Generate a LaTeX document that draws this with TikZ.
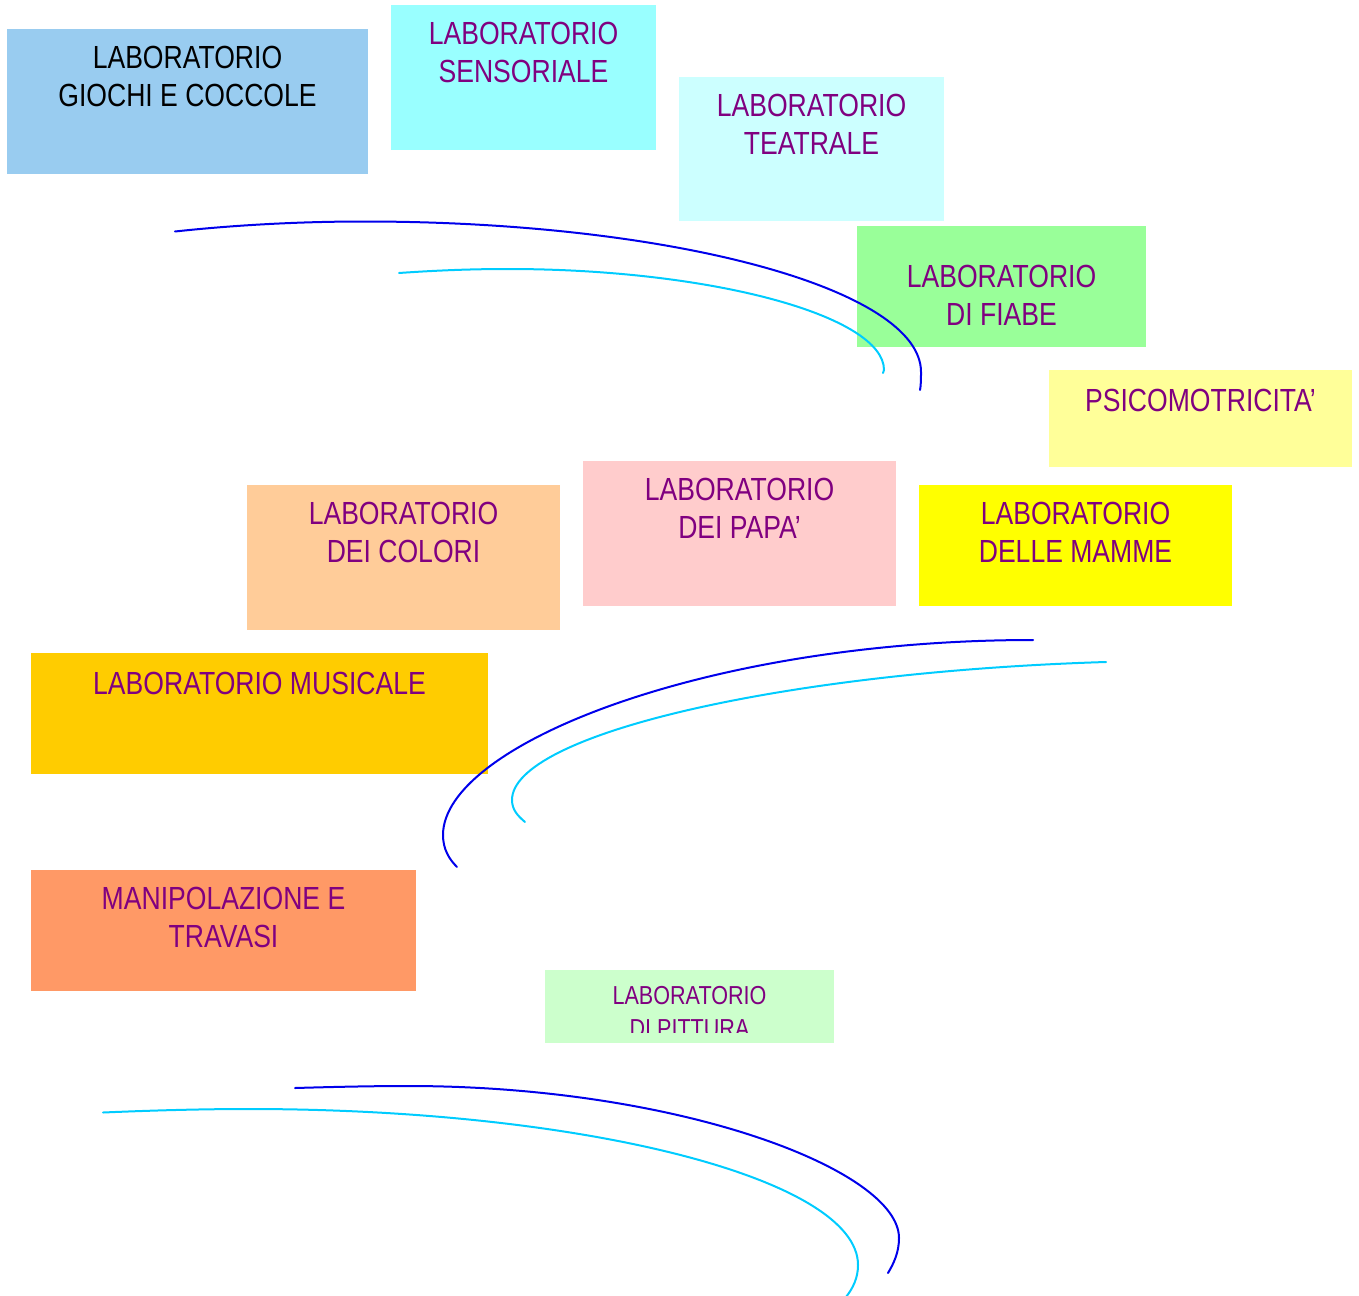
\documentclass[tikz,border=0pt]{standalone}
\usepackage{fontspec}
\setmainfont[FakeStretch=0.83]{Liberation Sans}
\definecolor{cGiochi}{RGB}{153,204,240}
\definecolor{cSens}{RGB}{153,255,255}
\definecolor{cTeatro}{RGB}{204,255,255}
\definecolor{cFiabe}{RGB}{153,255,153}
\definecolor{cPsico}{RGB}{255,255,153}
\definecolor{cColori}{RGB}{255,204,153}
\definecolor{cPapa}{RGB}{255,204,204}
\definecolor{cMamme}{RGB}{255,255,0}
\definecolor{cMusica}{RGB}{255,204,0}
\definecolor{cManip}{RGB}{255,153,102}
\definecolor{cPittura}{RGB}{204,255,204}
\definecolor{cPurple}{RGB}{128,0,128}
\definecolor{cBlue}{RGB}{0,0,235}
\definecolor{cCyan}{RGB}{0,204,255}
\begin{document}
\begin{tikzpicture}[x=1pt,y=-1pt,
  box/.style={rectangle, draw=none, inner sep=0pt, outer sep=0pt, anchor=north west},
  lbl/.style={anchor=north, inner sep=0pt, align=center, text=cPurple,
    font=\fontsize{32}{38}\selectfont, execute at begin node=\rule{0pt}{24pt}},
  small/.style={font=\fontsize{26}{33}\selectfont, execute at begin node=\rule{0pt}{19.5pt}},
  arcdark/.style={draw=cBlue, line width=2pt, line cap=round},
  arclight/.style={draw=cCyan, line width=2pt, line cap=round}]
\useasboundingbox (0,0) rectangle (1359,1295);

% coloured boxes
\node[box, fill=cGiochi, minimum width=361pt, minimum height=145pt] (giochi) at (7,29) {};
\node[box, fill=cSens, minimum width=265pt, minimum height=145pt] (sens) at (391,5) {};
\node[box, fill=cTeatro, minimum width=265pt, minimum height=144pt] (teatro) at (679,77) {};
\node[box, fill=cFiabe, minimum width=289pt, minimum height=121pt] (fiabe) at (857,226) {};
\node[box, fill=cPsico, minimum width=303pt, minimum height=97pt] (psico) at (1049,370) {};
\node[box, fill=cColori, minimum width=313pt, minimum height=145pt] (colori) at (247,485) {};
\node[box, fill=cPapa, minimum width=313pt, minimum height=145pt] (papa) at (583,461) {};
\node[box, fill=cMamme, minimum width=313pt, minimum height=121pt] (mamme) at (919,485) {};
\node[box, fill=cMusica, minimum width=457pt, minimum height=121pt] (musica) at (31,653) {};
\node[box, fill=cManip, minimum width=385pt, minimum height=121pt] (manip) at (31,870) {};
\node[box, fill=cPittura, minimum width=289pt, minimum height=73pt] (pittura) at (545,970) {};

% labels
\node[lbl, text=black] (giochi-t) at ([yshift=-17pt]giochi.north) {LABORATORIO\\GIOCHI E COCCOLE};
\node[lbl] (sens-t) at ([yshift=-17pt]sens.north) {LABORATORIO\\SENSORIALE};
\node[lbl] (teatro-t) at ([yshift=-17pt]teatro.north) {LABORATORIO\\TEATRALE};
\node[lbl] (fiabe-t) at ([yshift=-38.5pt]fiabe.north) {LABORATORIO\\DI FIABE};
\node[lbl] (psico-t) at ([yshift=-17.5pt]psico.north) {PSICOMOTRICITA’};
\node[lbl] (colori-t) at ([yshift=-17pt]colori.north) {LABORATORIO\\DEI COLORI};
\node[lbl] (papa-t) at ([yshift=-17pt]papa.north) {LABORATORIO\\DEI PAPA’};
\node[lbl] (mamme-t) at ([yshift=-17pt]mamme.north) {LABORATORIO\\DELLE MAMME};
\node[lbl] (musica-t) at ([yshift=-17.5pt]musica.north) {LABORATORIO MUSICALE};
\node[lbl] (manip-t) at ([yshift=-17pt]manip.north) {MANIPOLAZIONE E\\TRAVASI};
\begin{scope}
  \clip (545,970) rectangle (834,1032);
  \node[lbl, small] (pittura-t) at ([yshift=-16pt]pittura.north) {LABORATORIO\\DI PITTURA};
\end{scope}

% decorative arcs, upper pair
\draw[arcdark] (175,231.5) .. controls (235,225) and (300,221.5) .. (364,221.5)
  .. controls (672,221.5) and (921,289) .. (921,372)
  .. controls (921,381) and (920.8,386) .. (920,390);
\draw[arclight] (399,273) .. controls (435,270.5) and (470,269) .. (508,269)
  .. controls (712,269) and (884,316) .. (884,370)
  .. controls (884,371) and (883.5,372) .. (883,373);

% decorative arcs, middle pair
\draw[arcdark] (1033,640) .. controls (707,640) and (443,745) .. (443,835)
  .. controls (443,849) and (449,859) .. (457,867);
\draw[arclight] (1106,662) .. controls (780,672) and (512,735) .. (512,800)
  .. controls (512,810) and (518,816) .. (525,822);

% decorative arcs, lower pair
\draw[arcdark] (295,1088) .. controls (330,1087) and (370,1086) .. (408,1086)
  .. controls (679,1086) and (899,1170) .. (899,1238)
  .. controls (899,1252) and (894,1263) .. (888,1273);
\draw[arclight] (103,1112.5) .. controls (150,1110.5) and (200,1109) .. (249,1109)
  .. controls (585,1109) and (858,1179) .. (858,1265)
  .. controls (858,1278) and (853,1288) .. (846,1297);
\end{tikzpicture}
\end{document}
